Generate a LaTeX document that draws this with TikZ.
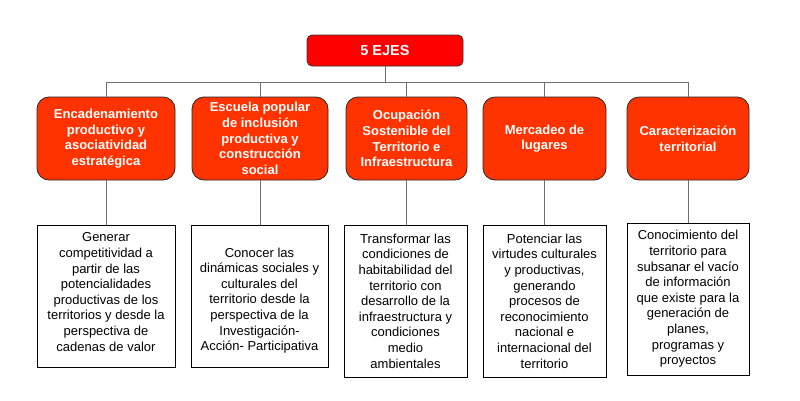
\documentclass[tikz,border=0pt]{standalone}
\usepackage{fontspec}
\setmainfont{Liberation Sans}
\definecolor{topred}{RGB}{255,0,0}
\definecolor{axisred}{RGB}{255,51,0}
\definecolor{linegray}{RGB}{110,110,110}
\begin{document}
\begin{tikzpicture}[x=1pt,y=-1pt,
  topbox/.style={draw=black!80, fill=topred, rounded corners=5pt, line width=0.8pt,
    minimum width=156pt, minimum height=31pt, inner sep=0pt, align=center,
    text=white, font=\fontsize{14.5}{17}\selectfont\bfseries},
  axisbox/.style={draw=black!85, fill=axisred, rounded corners=12pt, line width=0.8pt,
    minimum height=83pt, inner sep=0pt, align=center,
    text=white, font=\fontsize{13}{15.6}\selectfont\bfseries},
  descbox/.style={draw=black, fill=white, line width=0.8pt, inner sep=0pt, align=center,
    text=black, font=\fontsize{13}{15.6}\selectfont},
  desctext/.style={inner sep=0pt, align=center, text=black, font=\fontsize{13}{15.6}\selectfont},
  conn/.style={draw=linegray, line width=0.9pt}]
\useasboundingbox (0,0) rectangle (800,400);
\fill[white] (0,0) rectangle (800,400);

\node[topbox] (top) at (385,50.5) {5 EJES};

\node[axisbox, minimum width=138pt] (u1) at (106,138.5) {Encadenamiento\\productivo y\\asociatividad\\estratégica};
\node[axisbox, minimum width=136pt] (u2) at (260,138.5) {Escuela popular\\de inclusión\\productiva y\\construcción\\social};
\node[axisbox, minimum width=121pt] (u3) at (406.5,138.5) {Ocupación\\Sostenible del\\Territorio e\\Infraestructura};
\node[axisbox, minimum width=123pt] (u4) at (544.5,138.5) {Mercadeo de\\lugares};
\node[axisbox, minimum width=122pt] (u5) at (688,138.5) {Caracterización\\territorial};

\node[descbox, minimum width=138pt, minimum height=142pt] (l1) at (106,296) {};
\node[desctext] (t1) at (106,292) {Generar\\competitividad a\\partir de las\\potencialidades\\productivas de los\\territorios y desde la\\perspectiva de\\cadenas de valor};
\node[descbox, minimum width=137pt, minimum height=142pt] (l2) at (259.5,296) {};
\node[desctext] (t2) at (259.5,300.5) {Conocer las\\dinámicas sociales y\\culturales del\\territorio desde la\\perspectiva de la\\Investigación-\\Acción- Participativa};
\node[descbox, minimum width=123pt, minimum height=152pt] (l3) at (405.5,301) {Transformar las\\condiciones de\\habitabilidad del\\territorio con\\desarrollo de la\\infraestructura y\\condiciones\\medio\\ambientales};
\node[descbox, minimum width=123pt, minimum height=152pt] (l4) at (544.5,301) {Potenciar las\\virtudes culturales\\y productivas,\\generando\\procesos de\\reconocimiento\\nacional e\\internacional del\\territorio};
\node[descbox, minimum width=122pt, minimum height=152pt] (l5) at (688,299) {Conocimiento del\\territorio para\\subsanar el vacío\\de información\\que existe para la\\generación de\\planes,\\programas y\\proyectos};

\coordinate (bus) at (385,82);
\draw[conn] (top.south) -- (bus);
\draw[conn] (u1.north) -- (u1.north |- bus) -- (u5.north |- bus) -- (u5.north);
\draw[conn] (u2.north) -- (u2.north |- bus);
\draw[conn] (u3.north) -- (u3.north |- bus);
\draw[conn] (u4.north) -- (u4.north |- bus);
\draw[conn] (u1.south) -- (l1.north);
\draw[conn] (u2.south) -- (u2.south |- l2.north);
\draw[conn] (u3.south) -- (u3.south |- l3.north);
\draw[conn] (u4.south) -- (l4.north);
\draw[conn] (u5.south) -- (l5.north);
\end{tikzpicture}
\end{document}
